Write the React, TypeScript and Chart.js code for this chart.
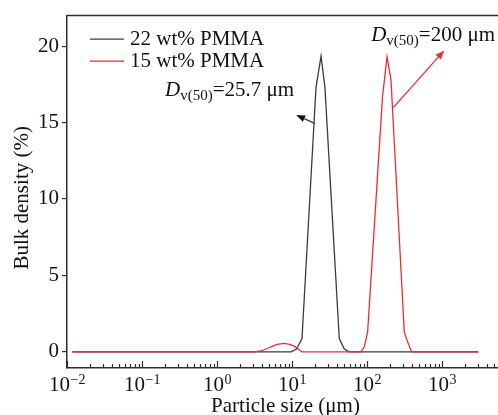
import React, { useEffect, useRef } from "react";
import { Chart, registerables } from "chart.js";

Chart.register(...registerables);

// ---------- data ----------
const seriesLabels = ["22 wt% PMMA", "15 wt% PMMA"];

// 22 wt% PMMA: particle size (µm) and bulk density (%)
const pmma22Size = [0.0118, 9.7, 11.5, 13.6, 20.9, 24.4, 27.5, 42.7, 49.8, 58.0, 3050];
const pmma22Density = [0, 0, 0.18, 0.87, 17.3, 19.35, 17.3, 0.87, 0.18, 0, 0];

// 15 wt% PMMA
const pmma15Size = [
  0.0118, 3.16, 3.98, 4.98, 6.3, 7.9, 9.3, 10.7, 12.0, 13.6,
  83, 92, 102, 161, 185, 209, 314, 348, 393, 3050,
];
const pmma15Density = [
  0, 0, 0.07, 0.28, 0.48, 0.55, 0.48, 0.37, 0.2, 0,
  0, 0.33, 1.3, 16.7, 19.3, 17.8, 1.3, 0.65, 0, 0,
];

const xTickExponents = [-2, -1, 0, 1, 2, 3];
const yTickValues = [0, 5, 10, 15, 20];

const xTitle = "Particle size (\u03bcm)";
const yTitle = "Bulk density (%)";

// annotations: text after subscript, text anchor (x,y), arrow tail (x,y), arrow tip (x,y)
const noteTexts = ["=25.7 \u03bcm", "=200 \u03bcm"];
const noteAnchorX = [0.203, 113.8];
const noteAnchorY = [16.74, 20.33];
const arrowTailX = [20.3, 224];
const arrowTailY = [14.93, 15.98];
const arrowTipX = [11.35, 1072];
const arrowTipY = [15.5, 19.72];

// ---------- styles ----------
const SERIF = '"Liberation Serif", "Times New Roman", serif';
const BLACK = "#3c3c3c";
const RED = "#ee2b30";
const AXIS = "#2f2f2f";
const TEXT = "#111111";
const seriesColors = [BLACK, RED];
const FS = 21;

const X_MIN = 0.01;
const X_MAX = Math.pow(10, 3.747);
const Y_MIN = -1.06;
const Y_MAX = 22;

const decorPlugin = {
  id: "decor",
  afterDraw(chart: any) {
    const { ctx, chartArea: ca, scales } = chart;
    const xs = scales.x;
    const ys = scales.y;
    ctx.save();

    // top frame line
    ctx.strokeStyle = AXIS;
    ctx.lineWidth = 1.5;
    ctx.beginPath();
    ctx.moveTo(ca.left, ca.top);
    ctx.lineTo(ca.right + 2, ca.top);
    ctx.stroke();

    // x ticks (inside)
    ctx.lineWidth = 1.2;
    for (let e = -2; e <= 4; e++) {
      for (let k = 1; k <= 9; k++) {
        const v = k * Math.pow(10, e);
        if (v < X_MIN * 0.999 || v > X_MAX) continue;
        const px = Math.round(xs.getPixelForValue(v)) + 0.5;
        const len = k === 1 ? 7 : 4;
        ctx.beginPath();
        ctx.moveTo(px, ca.bottom);
        ctx.lineTo(px, ca.bottom - len);
        ctx.stroke();
      }
    }

    // x tick labels 10^n
    ctx.fillStyle = TEXT;
    ctx.textAlign = "left";
    ctx.textBaseline = "alphabetic";
    for (const e of xTickExponents) {
      const px = xs.getPixelForValue(Math.pow(10, e));
      const base = "10";
      const sup = e < 0 ? "\u2212" + String(-e) : String(e);
      ctx.font = `${FS}px ${SERIF}`;
      const wb = ctx.measureText(base).width;
      ctx.font = `14px ${SERIF}`;
      const ws = ctx.measureText(sup).width;
      const start = px - (wb + ws) / 2;
      ctx.font = `${FS}px ${SERIF}`;
      ctx.fillText(base, start, ca.bottom + 23);
      ctx.font = `14px ${SERIF}`;
      ctx.fillText(sup, start + wb + 0.5, ca.bottom + 16);
    }

    // axis titles
    ctx.font = `${FS}px ${SERIF}`;
    ctx.textAlign = "center";
    ctx.fillText(xTitle, (ca.left + ca.right) / 2 + 3, ca.bottom + 44);
    ctx.save();
    ctx.translate(28, (ca.top + ca.bottom) / 2 + 6);
    ctx.rotate(-Math.PI / 2);
    ctx.fillText(yTitle, 0, 0);
    ctx.restore();

    // legend
    ctx.textAlign = "left";
    ctx.font = `${FS}px ${SERIF}`;
    for (let i = 0; i < seriesLabels.length; i++) {
      const ly = ca.top + 23.5 + i * 22;
      ctx.strokeStyle = seriesColors[i];
      ctx.lineWidth = 1.3;
      ctx.beginPath();
      ctx.moveTo(90, ly);
      ctx.lineTo(124, ly);
      ctx.stroke();
      ctx.fillStyle = TEXT;
      ctx.fillText(seriesLabels[i], 130, ly + 6);
    }

    // annotations
    for (let i = 0; i < noteTexts.length; i++) {
      const ax = xs.getPixelForValue(noteAnchorX[i]);
      const ay = ys.getPixelForValue(noteAnchorY[i]);
      ctx.fillStyle = TEXT;
      ctx.font = `italic ${FS}px ${SERIF}`;
      ctx.fillText("D", ax, ay);
      const wd = ctx.measureText("D").width;
      ctx.font = `15px ${SERIF}`;
      ctx.fillText("v(50)", ax + wd, ay + 4);
      const wsub = ctx.measureText("v(50)").width;
      ctx.font = `${FS}px ${SERIF}`;
      ctx.fillText(noteTexts[i], ax + wd + wsub, ay);

      // arrow
      const tx = xs.getPixelForValue(arrowTailX[i]);
      const ty = ys.getPixelForValue(arrowTailY[i]);
      const hx = xs.getPixelForValue(arrowTipX[i]);
      const hy = ys.getPixelForValue(arrowTipY[i]);
      const ang = Math.atan2(hy - ty, hx - tx);
      const headLen = 9;
      const headHalf = 3.5;
      const bx = hx - headLen * Math.cos(ang);
      const by = hy - headLen * Math.sin(ang);
      ctx.strokeStyle = seriesColors[i];
      ctx.fillStyle = seriesColors[i] === BLACK ? "#111" : RED;
      ctx.lineWidth = 1.3;
      ctx.beginPath();
      ctx.moveTo(tx, ty);
      ctx.lineTo(bx, by);
      ctx.stroke();
      ctx.beginPath();
      ctx.moveTo(hx, hy);
      ctx.lineTo(bx + headHalf * Math.sin(ang), by - headHalf * Math.cos(ang));
      ctx.lineTo(bx - headHalf * Math.sin(ang), by + headHalf * Math.cos(ang));
      ctx.closePath();
      ctx.fill();
    }

    ctx.restore();
  },
};

export default function App() {
  const ref = useRef<HTMLCanvasElement | null>(null);

  useEffect(() => {
    if (!ref.current) return;
    const toPoints = (xs: number[], ys: number[]) => xs.map((x, i) => ({ x, y: ys[i] }));
    const chart = new Chart(ref.current, {
      type: "line",
      data: {
        datasets: [
          {
            label: seriesLabels[0],
            data: toPoints(pmma22Size, pmma22Density),
            borderColor: BLACK,
            borderWidth: 1.3,
            pointRadius: 0,
            tension: 0,
            fill: false,
            order: 2,
          },
          {
            label: seriesLabels[1],
            data: toPoints(pmma15Size, pmma15Density),
            borderColor: RED,
            borderWidth: 1.3,
            pointRadius: 0,
            tension: 0,
            fill: false,
            order: 1,
          },
        ],
      },
      options: {
        animation: false,
        responsive: false,
        devicePixelRatio: 1,
        layout: { padding: { top: 14, left: 0, right: 0, bottom: 0 } },
        plugins: { legend: { display: false }, tooltip: { enabled: false } },
        scales: {
          x: {
            type: "logarithmic",
            min: X_MIN,
            max: X_MAX,
            ticks: { display: false },
            grid: { display: false },
            border: { display: true, color: AXIS, width: 1.5 },
            afterFit: (s: any) => {
              s.height = 47;
            },
          },
          y: {
            type: "linear",
            min: Y_MIN,
            max: Y_MAX,
            afterBuildTicks: (s: any) => {
              s.ticks = yTickValues.map((v) => ({ value: v }));
            },
            ticks: {
              font: { family: SERIF, size: FS },
              color: TEXT,
              padding: 3,
            },
            grid: {
              drawOnChartArea: false,
              drawTicks: true,
              tickLength: 5,
              color: AXIS,
              lineWidth: 1.2,
            },
            border: { display: true, color: AXIS, width: 1.5 },
            afterFit: (s: any) => {
              s.width = 67;
            },
          },
        },
      },
      plugins: [decorPlugin],
    } as any);
    return () => chart.destroy();
  }, []);

  return (
    <div style={{ position: "absolute", left: 0, top: 0, width: 498, height: 415, background: "#fff", overflow: "hidden" }}>
      <canvas ref={ref} width={498} height={415} style={{ display: "block", width: 498, height: 415 }} />
    </div>
  );
}
